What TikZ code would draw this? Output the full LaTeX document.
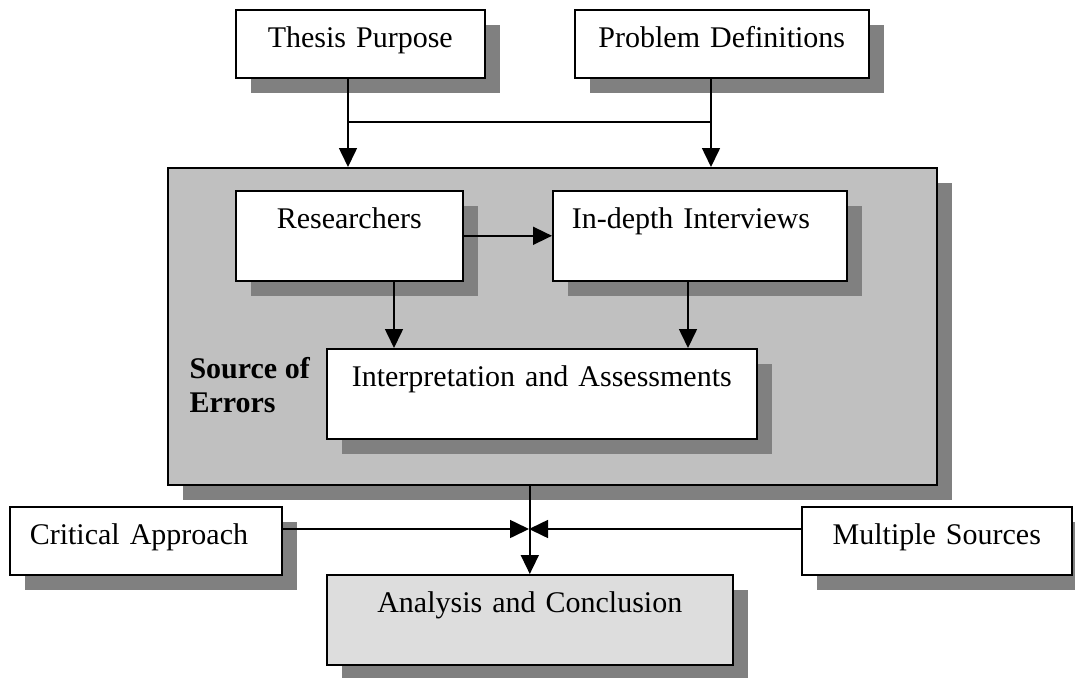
\documentclass[tikz,border=0pt]{standalone}
\usepackage{fontspec}
\setmainfont{Liberation Serif}
\usetikzlibrary{arrows.meta,shadows}

\definecolor{shadowgray}{HTML}{808080}
\definecolor{panelgray}{HTML}{C0C0C0}
\definecolor{resultgray}{HTML}{DDDDDD}

\tikzset{
  every node/.style={font=\fontsize{30}{34}\selectfont},
  boxshadow/.style={drop shadow={shadow xshift=15.5pt, shadow yshift=-15pt,
                                 fill=shadowgray, opacity=1}},
  box/.style={draw=black, line width=1.6pt, fill=white, anchor=north west,
              inner sep=0pt, align=center, text height=38pt, boxshadow},
  conn/.style={line width=1.6pt, draw=black},
  arr/.style={conn, -{Triangle[length=19pt,width=18pt]}},
}

\begin{document}
\begin{tikzpicture}[x=1pt, y=-1pt]
  \useasboundingbox (0,0) rectangle (1075,677);

  % inputs at the top
  \node[box, text width=249pt, text depth=30pt] (thesis)  at (235,9)   {Thesis Purpose};
  \node[box, text width=294pt, text depth=30pt] (problem) at (574,9)   {Problem Definitions};

  % the grey panel that groups the sources of error
  \node[draw=black, line width=1.6pt, fill=panelgray, anchor=north west, inner sep=0pt,
        minimum width=769pt, minimum height=317pt, boxshadow] (bigbox) at (167,167) {};
  % base anchor of a two-line node sits on its last line
  \node[anchor=base west, align=left, font=\fontsize{30}{34}\selectfont\bfseries]
        (errors) at (186,412) {Source of\\Errors};

  \node[box, text width=227pt, text depth=52pt] (research)  at (235,190) {Researchers};
  \node[box, text width=256pt, inner xsep=19pt, align=left, text depth=52pt]
        (interview) at (552,190) {In-depth Interviews};
  \node[box, text width=430pt, text depth=52pt] (interp)    at (326,348) {Interpretation and Assessments};

  % bottom row
  \node[box, text width=232pt, inner xsep=20pt, align=left, text depth=30pt]
        (critical) at (9,506)   {Critical Approach};
  \node[box, text width=270pt, text depth=30pt] (multiple) at (801,506) {Multiple Sources};
  \node[box, fill=resultgray, text width=406pt, text depth=52pt] (analysis) at (326,574) {Analysis and Conclusion};

  % connectors
  \coordinate (ta) at (348,122);
  \coordinate (pa) at (711,122);
  \coordinate (ra) at (394,0);
  \coordinate (ia) at (688,0);
  \coordinate (meet) at (529,529);

  \draw[conn] (thesis.south -| ta) -- (ta) -- (pa) -- (problem.south -| pa);
  \draw[arr] (ta) -- (bigbox.north -| ta);
  \draw[arr] (pa) -- (bigbox.north -| pa);

  \draw[arr] (research.east) -- (interview.west);
  \draw[arr] (research.south -| ra) -- (interp.north -| ra);
  \draw[arr] (interview.south -| ia) -- (interp.north -| ia);

  \draw[arr] (bigbox.south -| analysis.north) -- (analysis.north);
  \draw[arr] (critical.east |- meet) -- (meet);
  \draw[arr] (multiple.west |- meet) -- (meet);
\end{tikzpicture}
\end{document}
